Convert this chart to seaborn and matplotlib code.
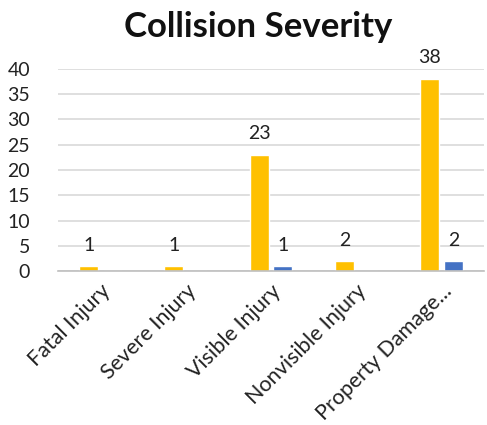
import matplotlib
matplotlib.use("Agg")
import matplotlib.pyplot as plt
import seaborn as sns
import pandas as pd

categories = ["Fatal Injury", "Severe Injury", "Visible Injury", "Nonvisible Injury", "Property Damage..."]
series_names = ["Series 1", "Series 2"]
series1 = [1, 1, 23, 2, 38]
series2 = [0, 0, 1, 0, 2]
colors = ["#FFC000", "#4472C4"]

df = pd.DataFrame({
    "category": categories * 2,
    "series": [series_names[0]] * len(categories) + [series_names[1]] * len(categories),
    "value": series1 + series2,
})

sns.set_theme(style="white")
plt.rcParams["font.family"] = ["Lato", "DejaVu Sans"]

fig = plt.figure(figsize=(4.87, 4.25), dpi=100)
ax = fig.add_axes([0.119, 0.362, 0.875, 0.476])

sns.barplot(data=df, x="category", y="value", hue="series", order=categories,
            hue_order=series_names, palette=colors, width=0.56, gap=0.2,
            ax=ax, legend=False, saturation=1)

for cont, vals in zip(ax.containers, [series1, series2]):
    ax.bar_label(cont, labels=[str(v) if v else "" for v in vals], padding=9,
                 fontsize=14, color="#222222")

ax.set_ylim(0, 40)
ax.set_yticks(range(0, 41, 5))
ax.yaxis.grid(True, color="#D9D9D9", linewidth=1.2)
ax.set_axisbelow(True)
for s in ["top", "right", "left"]:
    ax.spines[s].set_visible(False)
ax.spines["bottom"].set_color("#BFBFBF")
ax.spines["bottom"].set_linewidth(1.2)
ax.tick_params(axis="y", length=0, labelsize=14, colors="#222222", pad=20)
ax.tick_params(axis="x", length=0, labelsize=15.5, colors="#222222", pad=7)
ax.set_xlabel("")
ax.set_ylabel("")
plt.setp(ax.get_xticklabels(), rotation=45, ha="right", rotation_mode="anchor")

fig.suptitle("Collision Severity", fontsize=25, fontweight="bold", x=0.53, y=0.975, color="#111111")

fig.savefig("out.png", dpi=100)
